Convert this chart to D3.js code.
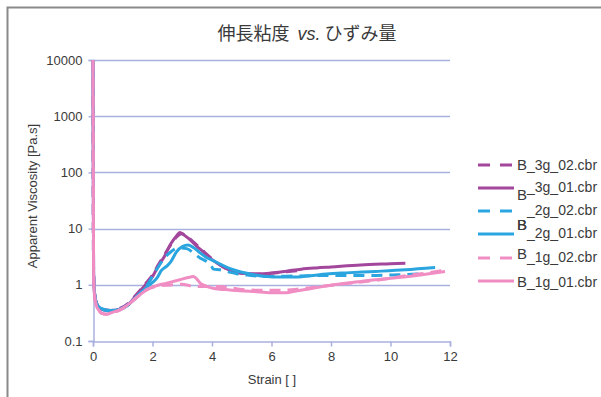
<!DOCTYPE html>
<html>
<head>
<meta charset="utf-8">
<script src="https://cdn.jsdelivr.net/npm/d3@7"></script>
<style>
  html, body { margin: 0; padding: 0; background: #fff; }
  svg { display: block; font-family: "Liberation Sans", Arial, sans-serif; }
</style>
</head>
<body>
<svg id="chart" width="601" height="397"></svg>
<script>
// Extensional viscosity vs. strain, six runs
const seriesNames = ["B_3g_02.cbr", "B_3g_01.cbr", "B_2g_02.cbr", "B_2g_01.cbr", "B_1g_02.cbr", "B_1g_01.cbr"];
const seriesColors = ["#a3479d", "#a3479d", "#2ba5df", "#2ba5df", "#f08dc3", "#f08dc3"];
const seriesDashed = [true, false, true, false, true, false];

const s3g02 = [[0,10000],[0.02,1.7],[0.05,0.75],[0.1,0.5],[0.2,0.4],[0.35,0.36],[0.6,0.35],[0.9,0.38],[1.2,0.47],[1.4,0.62],[1.6,0.82],[1.8,1.1],[2.0,1.5],[2.2,2.3],[2.4,3.4],[2.6,5.0],[2.8,7.0],[2.98,8.1],[3.15,7.2],[3.4,5.6],[3.7,4.0],[4.0,2.9],[4.3,2.2],[4.6,1.8],[5.0,1.6],[5.5,1.55],[6.0,1.6],[6.5,1.7],[7.0,1.8]];
const s3g01 = [[0,10000],[0.02,1.7],[0.05,0.75],[0.1,0.5],[0.2,0.4],[0.35,0.36],[0.6,0.35],[0.9,0.37],[1.2,0.45],[1.4,0.6],[1.6,0.8],[1.8,1.05],[2.0,1.4],[2.2,2.2],[2.4,3.2],[2.6,5.2],[2.8,7.3],[2.92,8.5],[3.05,7.8],[3.25,6.4],[3.5,4.8],[3.7,3.9],[4.0,2.8],[4.3,2.2],[4.6,1.8],[5.0,1.6],[5.5,1.56],[6.0,1.62],[6.5,1.75],[7.0,1.9],[7.5,2.0],[8.0,2.08],[9.0,2.25],[10.0,2.37],[10.5,2.43]];
const s2g02 = [[0,10000],[0.02,1.6],[0.05,0.72],[0.1,0.5],[0.2,0.4],[0.35,0.36],[0.6,0.34],[0.9,0.36],[1.2,0.44],[1.5,0.62],[1.8,0.95],[2.03,1.5],[2.2,2.1],[2.36,2.8],[2.6,3.8],[2.8,4.4],[2.95,4.5],[3.15,4.4],[3.4,3.6],[3.6,3.0],[3.82,2.6],[3.95,2.3],[4.05,1.9],[4.27,1.85],[4.55,1.7],[4.83,1.57],[5.3,1.47],[5.84,1.4],[6.5,1.42],[7.2,1.45],[7.74,1.46],[8.5,1.46],[9.3,1.46],[10.1,1.5],[10.9,1.55],[11.1,1.57]];
const s2g01 = [[0,10000],[0.02,1.6],[0.05,0.72],[0.1,0.5],[0.2,0.4],[0.35,0.37],[0.6,0.35],[0.9,0.37],[1.2,0.45],[1.5,0.65],[1.8,0.9],[2.0,1.1],[2.14,1.3],[2.3,1.8],[2.5,2.2],[2.6,2.5],[2.8,3.8],[3.0,4.8],[3.2,5.1],[3.4,4.5],[3.6,3.7],[3.8,3.1],[4.04,2.7],[4.3,2.3],[4.5,2.05],[4.8,1.8],[5.17,1.6],[5.5,1.48],[5.84,1.4],[6.3,1.37],[6.72,1.37],[7.3,1.45],[7.85,1.55],[8.5,1.63],[9.5,1.73],[10.5,1.85],[11.5,2.03]];
const s1g02 = [[0,10000],[0.02,1.5],[0.05,0.65],[0.1,0.45],[0.2,0.35],[0.3,0.31],[0.45,0.3],[0.7,0.32],[1.0,0.38],[1.3,0.5],[1.6,0.68],[1.8,0.82],[2.1,0.93],[2.4,0.98],[2.7,1.0],[3.0,1.02],[3.2,0.98],[3.4,0.93],[3.8,0.93],[4.27,0.93],[4.7,0.87],[5.17,0.81],[5.8,0.8],[6.29,0.8],[7.0,0.85],[7.8,0.95],[8.5,1.05],[9.5,1.2],[10.5,1.45],[11.3,1.65],[11.9,1.85]];
const s1g01 = [[0,10000],[0.02,1.5],[0.05,0.65],[0.1,0.45],[0.2,0.35],[0.3,0.31],[0.45,0.3],[0.7,0.33],[1.0,0.38],[1.3,0.5],[1.6,0.68],[1.8,0.81],[2.1,0.95],[2.48,1.07],[2.92,1.23],[3.2,1.35],[3.37,1.4],[3.5,1.25],[3.6,1.07],[3.8,0.95],[4.04,0.87],[4.6,0.81],[5.39,0.76],[6.0,0.72],[6.5,0.72],[6.73,0.76],[7.3,0.85],[8.08,1.0],[9.0,1.15],[10.1,1.32],[11.0,1.5],[11.83,1.72]];
const seriesValues = [s3g02, s3g01, s2g02, s2g01, s1g02, s1g01];

const xTicks = [0, 2, 4, 6, 8, 10, 12];
const yTicks = [0.1, 1, 10, 100, 1000, 10000];
const titleMain = "伸長粘度";
const titleVs = "vs.";
const titleTail = "ひずみ量";
const xTitle = "Strain [ ]";
const yTitle = "Apparent Viscosity [Pa.s]";

const svg = d3.select("#chart");
const margin = { left: 93, right: 151, top: 60, bottom: 56 };
const W = 601, H = 397;

// outer chart frame
svg.append("rect")
  .attr("x", 7.5).attr("y", 7.5).attr("width", 700).attr("height", 500)
  .attr("fill", "none").attr("stroke", "#8a8a8a").attr("stroke-width", 2);

const x = d3.scaleLinear().domain([0, 12]).range([margin.left, W - margin.right]);
const y = d3.scaleLog().domain([0.1, 10000]).range([H - margin.bottom, margin.top]);

const axisColor = "#a9b0e0";
const textColor = "#3a3a3a";

// horizontal gridlines
svg.append("g").selectAll("line").data(yTicks.slice(1)).join("line")
  .attr("x1", x(0)).attr("x2", x(12))
  .attr("y1", d => Math.round(y(d)) + 0.5).attr("y2", d => Math.round(y(d)) + 0.5)
  .attr("stroke", axisColor).attr("stroke-width", 1.5);

// axes
const xAxis = svg.append("g")
  .attr("transform", `translate(0,${Math.round(y(0.1)) + 0.5})`)
  .call(d3.axisBottom(x).tickValues(xTicks).tickFormat(d3.format("d")).tickSize(5).tickPadding(5));
const yAxis = svg.append("g")
  .attr("transform", `translate(${Math.round(x(0)) + 0.5},0)`)
  .call(d3.axisLeft(y).tickValues(yTicks).tickFormat(d => String(d)).tickSize(5).tickPadding(6));
[xAxis, yAxis].forEach(g => {
  g.select(".domain").attr("stroke", axisColor).attr("stroke-width", 1.5);
  g.selectAll(".tick line").attr("stroke", axisColor).attr("stroke-width", 1.5);
  g.selectAll(".tick text").attr("fill", textColor).attr("font-size", 13)
    .attr("font-family", "Liberation Sans, Arial, sans-serif");
});

// data lines
svg.append("clipPath").attr("id", "plotclip").append("rect")
  .attr("x", x(0) - 2).attr("y", y(10000)).attr("width", x(12) - x(0) + 4).attr("height", y(0.1) - y(10000));

const line = d3.line().x(d => x(d[0])).y(d => y(d[1])).curve(d3.curveMonotoneX);
const plot = svg.append("g").attr("clip-path", "url(#plotclip)");
seriesValues.forEach((vals, i) => {
  plot.append("path")
    .attr("d", line(vals))
    .attr("fill", "none")
    .attr("stroke", seriesColors[i])
    .attr("stroke-width", 3)
    .attr("stroke-linejoin", "round")
    .attr("stroke-dasharray", seriesDashed[i] ? "11,7" : null);
});

// title
const title = svg.append("text")
  .attr("x", 307).attr("y", 40).attr("text-anchor", "middle")
  .attr("fill", textColor).attr("font-size", 18)
  .attr("font-family", "Noto Sans CJK JP, sans-serif");
title.append("tspan").text(titleMain + "\u00a0\u00a0");
title.append("tspan").attr("font-style", "italic").attr("font-family", "Liberation Sans, Arial, sans-serif").text(titleVs);
title.append("tspan").text("\u00a0" + titleTail);

// axis titles
svg.append("text")
  .attr("x", 272).attr("y", 384).attr("text-anchor", "middle")
  .attr("fill", textColor).attr("font-size", 13).text(xTitle);
svg.append("text")
  .attr("transform", "translate(37,196) rotate(-90)").attr("text-anchor", "middle")
  .attr("fill", textColor).attr("font-size", 13).text(yTitle);

// legend: sample line, then label with the leading letter set on its own baseline
const legendRowY = [165, 188, 211, 234, 258, 281];
const legendLetterY = [170, 200, 230, 230, 259, 287];
const legendRestY = [170, 192, 215, 238, 262, 287];
const legend = svg.append("g");
seriesNames.forEach((name, i) => {
  legend.append("line")
    .attr("x1", 478).attr("x2", 514)
    .attr("y1", legendRowY[i]).attr("y2", legendRowY[i])
    .attr("stroke", seriesColors[i]).attr("stroke-width", 3)
    .attr("stroke-dasharray", seriesDashed[i] ? "12,10" : null);
  const t = legend.append("text").attr("fill", textColor);
  t.append("tspan").attr("x", 517).attr("y", legendLetterY[i]).attr("font-size", 15).text(name.slice(0, 1));
  t.append("tspan").attr("x", 527).attr("y", legendRestY[i]).attr("font-size", 14).text(name.slice(1));
});
</script>
</body>
</html>
